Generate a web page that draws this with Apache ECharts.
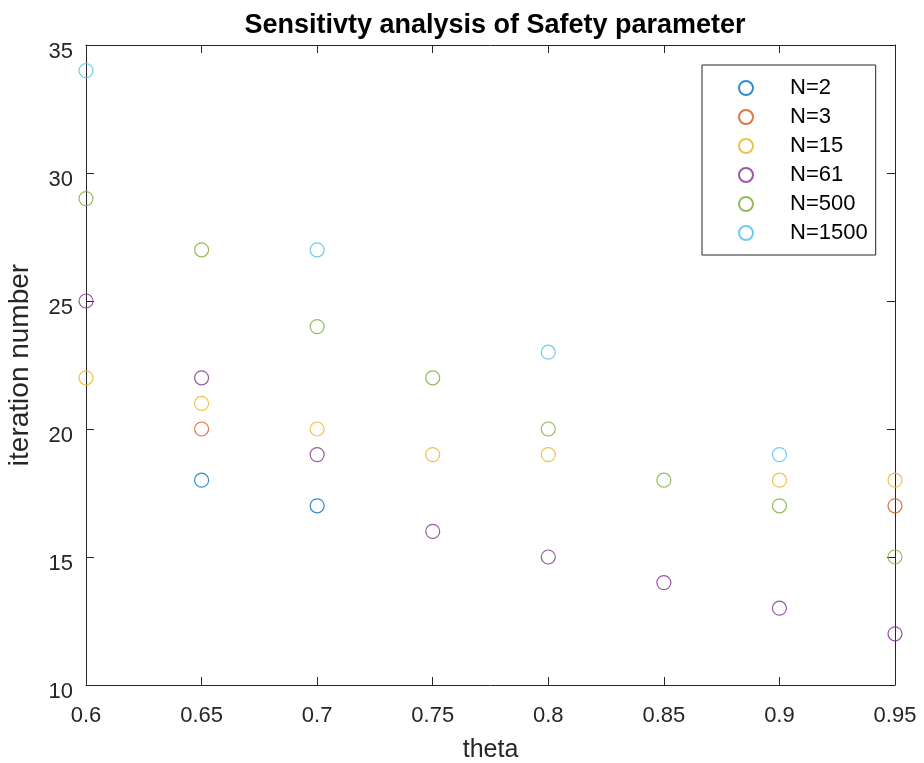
<!DOCTYPE html>
<html>
<head>
<meta charset="utf-8">
<script src="https://cdn.jsdelivr.net/npm/echarts@6/dist/echarts.min.js"></script>
<style>html,body{margin:0;padding:0;background:#fff;}#c{width:924px;height:763px;}</style>
</head>
<body>
<div id="c"></div>
<script>
var thetas = [0.6, 0.65, 0.7, 0.75, 0.8, 0.85, 0.9, 0.95];
var seriesNames = ['N=2', 'N=3', 'N=15', 'N=61', 'N=500', 'N=1500'];
var n2    = [null, 18, 17, null, null, null, null, null];
var n3    = [null, 20, null, null, null, null, null, 17];
var n15   = [22, 21, 20, 19, 19, null, 18, 18];
var n61   = [25, 22, 19, 16, 15, 14, 13, 12];
var n500  = [29, 27, 24, 22, 20, 18, 17, 15];
var n1500 = [34, null, 27, null, 23, null, 19, null];
var xTicks = [0.6, 0.65, 0.7, 0.75, 0.8, 0.85, 0.9, 0.95];
var yTicks = [10, 15, 20, 25, 30, 35];

var values = [n2, n3, n15, n61, n500, n1500];
var colors = ['#0072BD', '#D95319', '#EDB120', '#7E2F8E', '#77AC30', '#4DBEEE'];
var FONT = 'Liberation Sans, Arial, Helvetica, sans-serif';
var AX = '#262626';

function pairs(arr) {
  var out = [];
  for (var i = 0; i < thetas.length; i++) if (arr[i] !== null) out.push([thetas[i], arr[i]]);
  return out;
}

var series = seriesNames.map(function (name, i) {
  return {
    name: name, type: 'scatter', data: pairs(values[i]),
    symbol: 'circle', symbolSize: 14, clip: false,
    itemStyle: { color: 'rgba(255,255,255,0)', borderColor: colors[i], borderWidth: 1.2 },
    emphasis: { disabled: true }, silent: true
  };
});

function xAx(pos, showLabel) {
  return {
    type: 'value', position: pos, min: xTicks[0], max: xTicks[xTicks.length - 1], interval: 0.05,
    name: showLabel ? 'theta' : '', nameLocation: 'middle', nameGap: 53,
    nameTextStyle: { fontFamily: FONT, fontSize: 25, color: AX },
    axisLine: { show: true, onZero: false, lineStyle: { color: AX, width: 1 } },
    axisTick: { show: true, inside: true, length: 8, lineStyle: { color: AX } },
    axisLabel: { show: showLabel, margin: 20, fontFamily: FONT, fontSize: 22, color: AX,
      formatter: function (v) { return String(+v.toFixed(2)); } },
    splitLine: { show: false }
  };
}
function yAx(pos, showLabel) {
  return {
    type: 'value', position: pos, min: yTicks[0], max: yTicks[yTicks.length - 1], interval: 5,
    name: showLabel ? 'iteration number' : '', nameLocation: 'middle', nameGap: 52,
    nameTextStyle: { fontFamily: FONT, fontSize: 28, color: AX },
    axisLine: { show: true, onZero: false, lineStyle: { color: AX, width: 1 } },
    axisTick: { show: true, inside: true, length: 8, lineStyle: { color: AX } },
    axisLabel: { show: showLabel, margin: 13, fontFamily: FONT, fontSize: 22, color: AX,
      verticalAlign: 'top', lineHeight: 14 },
    splitLine: { show: false }
  };
}

var chart = echarts.init(document.getElementById('c'), null, { renderer: 'canvas' });
chart.setOption({
  animation: false,
  backgroundColor: '#fff',
  title: {
    text: 'Sensitivty analysis of Safety parameter', left: 490, textAlign: 'center', top: 7,
    textStyle: { fontFamily: FONT, fontSize: 27, fontWeight: 'bold', color: '#000' }
  },
  grid: { left: 86, top: 45, right: 29, bottom: 78, containLabel: false, outerBoundsMode: 'none' },
  xAxis: [xAx('bottom', true), xAx('top', false)],
  yAxis: [yAx('left', true), yAx('right', false)],
  legend: {
    orient: 'vertical', left: 702, top: 65,
    padding: [12, 8, 11, 36], itemGap: 7, itemWidth: 14, itemHeight: 14,
    backgroundColor: '#fff', borderColor: AX, borderWidth: 1, borderRadius: 0,
    selectedMode: false,
    textStyle: { fontFamily: FONT, fontSize: 22, color: '#000', lineHeight: 22, padding: [0, 0, 0, 32] },
    data: seriesNames
  },
  series: series
});
</script>
</body>
</html>
